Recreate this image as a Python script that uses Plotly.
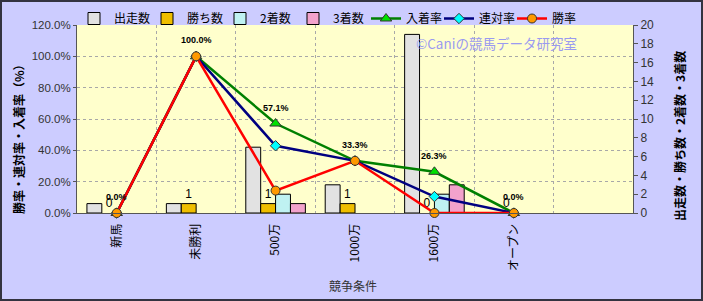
import plotly.graph_objects as go

categories = ["新馬", "未勝利", "500万", "1000万", "1600万", "オープン"]
runs = [1, 1, 7, 3, 19, 0]
wins = [0, 1, 1, 1, 0, 0]
seconds = [0, 0, 2, 0, 2, 0]
thirds = [0, 0, 1, 0, 3, 0]
place_rate = [0.0, 100.0, 57.1, 33.3, 26.3, 0.0]
rentai_rate = [0.0, 100.0, 42.9, 33.3, 10.5, 0.0]
win_rate = [0.0, 100.0, 14.3, 33.3, 0.0, 0.0]

W, H = 703, 301
L, R, T, B = 77, 70, 25, 88
PW, PH = W - L - R, H - T - B

def px(x):
    return (x - L) / PW

def py(y):
    return (H - B - y) / PH

xs = list(range(len(categories)))
fig = go.Figure()

bar_specs = [
    ("出走数", runs, "#E2E2E2"),
    ("勝ち数", wins, "#EFBE00"),
    ("2着数", seconds, "#BFF2F2"),
    ("3着数", thirds, "#F2A2CC"),
]
for name, vals, col in bar_specs:
    if name == "勝ち数":
        kw = dict(text=[str(v) for v in vals], textposition="outside",
                  textfont=dict(family="Liberation Sans, Arial", size=12, color="#000"),
                  cliponaxis=False)
    else:
        kw = dict(textposition="none")
    fig.add_trace(go.Bar(x=xs, y=vals, name=name, xaxis="x", yaxis="y",
                         offsetgroup=name, showlegend=False, legendgroup=name,
                         marker=dict(color=col,
                                     line=dict(color="#000",
                                               width=[1 if v else 0 for v in vals])),
                         **kw))
    # legend-only entry (no data) sharing the same offset group
    fig.add_trace(go.Bar(x=[None], y=[None], name=name, xaxis="x", yaxis="y",
                         offsetgroup=name, showlegend=True, legendgroup=name,
                         marker=dict(color=col, line=dict(color="#000", width=1))))

line_specs = [
    ("入着率", place_rate, "#008000", "triangle-up", 10, "#00E000"),
    ("連対率", rentai_rate, "#000080", "diamond", 8, "#00FFFF"),
    ("勝率", win_rate, "#FF0000", "circle", 9, "#FF9900"),
]
for name, vals, lc, sym, sz, mc in line_specs:
    fig.add_trace(go.Scatter(x=xs, y=vals, name=name, xaxis="x", yaxis="y2",
                             mode="lines+markers", cliponaxis=False,
                             line=dict(color=lc, width=2.5),
                             marker=dict(symbol=sym, size=sz, color=mc,
                                         line=dict(color="#333", width=1))))

annotations = []
for i, v in enumerate(place_rate):
    annotations.append(dict(x=xs[i], y=v, xref="x", yref="y2", text=f"<b>{v:.1f}%</b>",
                            showarrow=False, yshift=16, xanchor="center", yanchor="middle",
                            font=dict(family="Liberation Sans, Arial", size=9, color="#000")))

annotations += [
    dict(x=px(18), y=py(136), xref="paper", yref="paper", text="<b>勝率・連対率・入着率（%）</b>",
         textangle=-90, showarrow=False, xanchor="center", yanchor="middle",
         font=dict(size=12, color="#000")),
    dict(x=px(679), y=py(136), xref="paper", yref="paper", text="<b>出走数・勝ち数・2着数・3着数</b>",
         textangle=-90, showarrow=False, xanchor="center", yanchor="middle",
         font=dict(size=12, color="#000")),
    dict(x=px(353), y=py(285), xref="paper", yref="paper", text="競争条件",
         showarrow=False, xanchor="center", yanchor="middle",
         font=dict(size=12, color="#333")),
    dict(x=px(496), y=py(43), xref="paper", yref="paper", text="©Caniの競馬データ研究室",
         showarrow=False, xanchor="center", yanchor="middle",
         font=dict(size=13.5, color="#9A9AF0")),
]

fig.update_layout(
    width=W, height=H, margin=dict(l=L, r=R, t=T, b=B, autoexpand=False),
    paper_bgcolor="#CCCCFF", plot_bgcolor="#FFFFCC",
    barmode="group", bargap=0.25, bargroupgap=0,
    font=dict(family="Noto Sans CJK JP, sans-serif", size=12, color="#000"),
    showlegend=True,
    legend=dict(orientation="h", x=px(74), xanchor="left", y=py(4), yanchor="top",
                font=dict(size=12, color="#000"), bgcolor="rgba(0,0,0,0)",
                itemwidth=30, entrywidth=28, tracegroupgap=0, traceorder="normal"),
    xaxis=dict(range=[-0.5, 6.5], tickmode="array", tickvals=xs, ticktext=categories,
               tickangle=-90, showgrid=False, zeroline=False, showline=True,
               linecolor="#555", linewidth=1, ticklabelstandoff=5,
               tickfont=dict(size=12, color="#000"),
               minor=dict(tickmode="array", tickvals=[i + 0.5 for i in range(6)],
                          showgrid=True, gridcolor="#A8A8A8", griddash="dot", gridwidth=1)),
    yaxis=dict(side="right", range=[0, 20], dtick=2, showgrid=False, zeroline=False,
               showline=True, linecolor="#555", ticks="outside", ticklen=4, tickcolor="#555",
               tickfont=dict(family="Liberation Sans, Arial", size=12, color="#333")),
    yaxis2=dict(overlaying="y", side="left", range=[0, 120], dtick=20, tickformat=".1f",
                ticksuffix="%", showgrid=True, gridcolor="#A8A8A8", griddash="dot",
                zeroline=False, showline=True, linecolor="#555", ticks="outside",
                ticklen=3, tickcolor="#555",
                tickfont=dict(family="Liberation Sans, Arial", size=11.5, color="#333")),
    annotations=annotations,
    shapes=[dict(type="rect", xref="paper", yref="paper", layer="above",
                 x0=px(1), x1=px(W - 1), y0=py(H - 1), y1=py(1),
                 line=dict(color="#333340", width=2))],
)

fig.write_html("out.html")
